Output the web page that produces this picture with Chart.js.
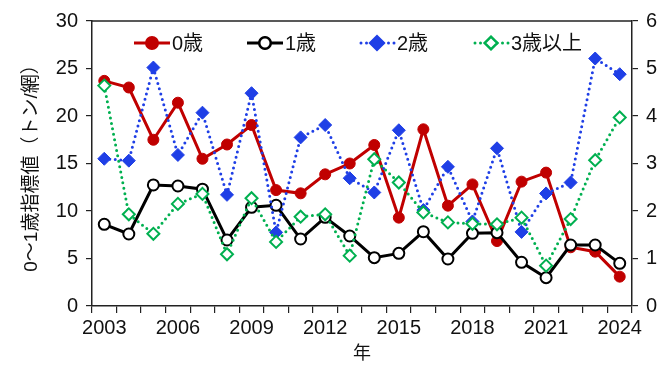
<!DOCTYPE html>
<html lang="ja">
<head>
<meta charset="UTF-8">
<title>0～1歳指標値</title>
<script src="https://cdn.jsdelivr.net/npm/chart.js"></script>
<style>
    html, body { margin: 0; padding: 0; background: #fff; }
    .wrap { width: 658px; height: 365px; }
</style>
</head>
<body>
<div class="wrap"><canvas id="indexChart"></canvas></div>
<script>
    // data
    const years = ['2003', '2004', '2005', '2006', '2007', '2008', '2009', '2010', '2011', '2012', '2013',
        '2014', '2015', '2016', '2017', '2018', '2019', '2020', '2021', '2022', '2023', '2024'];
    const shownYears = ['2003', '2006', '2009', '2012', '2015', '2018', '2021', '2024'];

    // left axis (0歳, 1歳)
    const age0 = [23.7, 23.0, 17.5, 21.4, 15.5, 17.0, 19.05, 12.2, 11.86, 13.86, 15.0,
        16.95, 9.3, 18.6, 10.56, 12.8, 6.84, 13.09, 14.04, 6.18, 5.72, 3.09];
    const age1 = [8.6, 7.58, 12.74, 12.63, 12.3, 6.95, 10.39, 10.6, 7.05, 9.33, 7.37,
        5.09, 5.54, 7.82, 4.95, 7.65, 7.72, 4.6, 2.98, 6.42, 6.42, 4.49];
    // right axis (2歳, 3歳以上)
    const age2 = [3.1, 3.06, 5.02, 3.18, 4.07, 2.34, 4.48, 1.55, 3.55, 3.81, 2.69,
        2.39, 3.7, 2.02, 2.93, 1.78, 3.32, 1.56, 2.37, 2.6, 5.21, 4.88];
    const age3 = [4.64, 1.93, 1.52, 2.15, 2.36, 1.09, 2.27, 1.35, 1.88, 1.93, 1.06,
        3.09, 2.6, 1.97, 1.76, 1.73, 1.72, 1.86, 0.85, 1.83, 3.07, 3.97];

    const seriesNames = ['0歳', '1歳', '2歳', '3歳以上'];
    const leftTicks = [0, 5, 10, 15, 20, 25, 30];
    const rightTicks = [0, 1, 2, 3, 4, 5, 6];

    const FONT = "'Liberation Sans', Arial, 'Noto Sans CJK JP', sans-serif";
    const RED = '#c00000', BLUE = '#1f3fe6', GREEN = '#00b050';

    // frame top line + legend drawn inside the plot
    const framePlugin = {
        id: 'frame',
        afterDraw(chart) {
            const { ctx, chartArea: a } = chart;
            ctx.save();
            ctx.strokeStyle = '#222';
            ctx.lineWidth = 1.5;
            ctx.beginPath();
            ctx.moveTo(a.left, a.top);
            ctx.lineTo(a.right, a.top);
            ctx.stroke();

            // legend
            const y = a.top + 22;
            const starts = [a.left + 42, a.left + 155, a.left + 267, a.left + 381];
            const sampleW = 36;
            chart.data.datasets.forEach((ds, i) => {
                const x0 = starts[i];
                ctx.save();
                ctx.strokeStyle = ds.borderColor;
                ctx.lineWidth = ds.borderWidth;
                ctx.lineCap = ds.borderCapStyle || 'butt';
                ctx.setLineDash(ds.borderDash || []);
                ctx.beginPath();
                ctx.moveTo(x0 + (ds.borderDash ? 2 : 0), y);
                ctx.lineTo(x0 + sampleW, y);
                ctx.stroke();
                ctx.setLineDash([]);
                Chart.helpers.drawPoint(ctx, {
                    pointStyle: ds.pointStyle,
                    radius: ds.pointRadius,
                    borderWidth: ds.pointBorderWidth
                }, x0 + sampleW / 2, y);
                ctx.fillStyle = ds.pointBackgroundColor;
                ctx.strokeStyle = ds.pointBorderColor;
                ctx.lineWidth = ds.pointBorderWidth;
                ctx.fill();
                if (ds.pointBorderWidth > 0) ctx.stroke();
                ctx.restore();

                ctx.fillStyle = '#111';
                ctx.font = '20px ' + FONT;
                ctx.textBaseline = 'middle';
                ctx.textAlign = 'left';
                ctx.fillText(ds.label, x0 + sampleW + 2, y + 1);
            });
            ctx.restore();
        }
    };

    const ctx = document.getElementById('indexChart').getContext('2d');

    new Chart(ctx, {
        type: 'line',
        data: {
            labels: years,
            datasets: [
                {
                    label: seriesNames[0],
                    data: age0,
                    yAxisID: 'y',
                    borderColor: RED,
                    borderWidth: 3,
                    pointStyle: 'circle',
                    pointRadius: 5.5,
                    pointBackgroundColor: RED,
                    pointBorderColor: RED,
                    pointBorderWidth: 1,
                    order: 4
                },
                {
                    label: seriesNames[1],
                    data: age1,
                    yAxisID: 'y',
                    borderColor: '#000',
                    borderWidth: 3,
                    pointStyle: 'circle',
                    pointRadius: 5.5,
                    pointBackgroundColor: '#fff',
                    pointBorderColor: '#000',
                    pointBorderWidth: 2,
                    order: 3
                },
                {
                    label: seriesNames[2],
                    data: age2,
                    yAxisID: 'y1',
                    borderColor: BLUE,
                    borderWidth: 3,
                    borderDash: [0, 5.5],
                    borderCapStyle: 'round',
                    pointStyle: 'rectRot',
                    pointRadius: 6.5,
                    pointBackgroundColor: BLUE,
                    pointBorderColor: BLUE,
                    pointBorderWidth: 1,
                    order: 2
                },
                {
                    label: seriesNames[3],
                    data: age3,
                    yAxisID: 'y1',
                    borderColor: GREEN,
                    borderWidth: 3,
                    borderDash: [0, 5.5],
                    borderCapStyle: 'round',
                    pointStyle: 'rectRot',
                    pointRadius: 6,
                    pointBackgroundColor: '#fff',
                    pointBorderColor: GREEN,
                    pointBorderWidth: 2,
                    order: 1
                }
            ]
        },
        options: {
            responsive: true,
            maintainAspectRatio: false,
            animation: false,
            layout: { padding: { top: 21, left: 0, right: 0, bottom: 0 } },
            elements: { line: { tension: 0 } },
            plugins: {
                legend: { display: false },
                tooltip: { enabled: false }
            },
            scales: {
                x: {
                    offset: true,
                    grid: {
                        offset: true,
                        drawOnChartArea: false,
                        drawTicks: true,
                        tickLength: 7,
                        color: '#222',
                        lineWidth: 1.2
                    },
                    border: { color: '#222', width: 1.5 },
                    ticks: {
                        autoSkip: false,
                        maxRotation: 0,
                        padding: 3,
                        color: '#111',
                        font: { family: FONT, size: 20 },
                        callback: function (v, i) {
                            const lab = this.getLabelForValue(v);
                            return shownYears.includes(lab) ? lab : '';
                        }
                    },
                    title: {
                        display: true,
                        text: '年',
                        color: '#111',
                        padding: { top: 7, bottom: 0 },
                        font: { family: FONT, size: 18 }
                    },
                    afterFit: s => { s.height = 59; }
                },
                y: {
                    position: 'left',
                    min: 0,
                    max: 30,
                    afterBuildTicks: s => { s.ticks = leftTicks.map(v => ({ value: v })); },
                    grid: {
                        drawOnChartArea: false,
                        drawTicks: true,
                        tickLength: 6,
                        color: '#222',
                        lineWidth: 1.2
                    },
                    border: { color: '#222', width: 1.5 },
                    ticks: {
                        padding: 8,
                        color: '#111',
                        font: { family: FONT, size: 20 }
                    },
                    title: {
                        display: true,
                        text: '0～1歳指標値（トン/網）',
                        color: '#111',
                        padding: { top: 20, bottom: 4 },
                        font: { family: FONT, size: 19 }
                    },
                    afterFit: s => { s.width = 92; }
                },
                y1: {
                    position: 'right',
                    min: 0,
                    max: 6,
                    afterBuildTicks: s => { s.ticks = rightTicks.map(v => ({ value: v })); },
                    grid: {
                        drawOnChartArea: false,
                        drawTicks: true,
                        tickLength: 6,
                        color: '#222',
                        lineWidth: 1.2
                    },
                    border: { color: '#222', width: 1.5 },
                    ticks: {
                        padding: 8,
                        color: '#111',
                        font: { family: FONT, size: 20 }
                    },
                    afterFit: s => { s.width = 26; }
                }
            }
        },
        plugins: [framePlugin]
    });
</script>
</body>
</html>
